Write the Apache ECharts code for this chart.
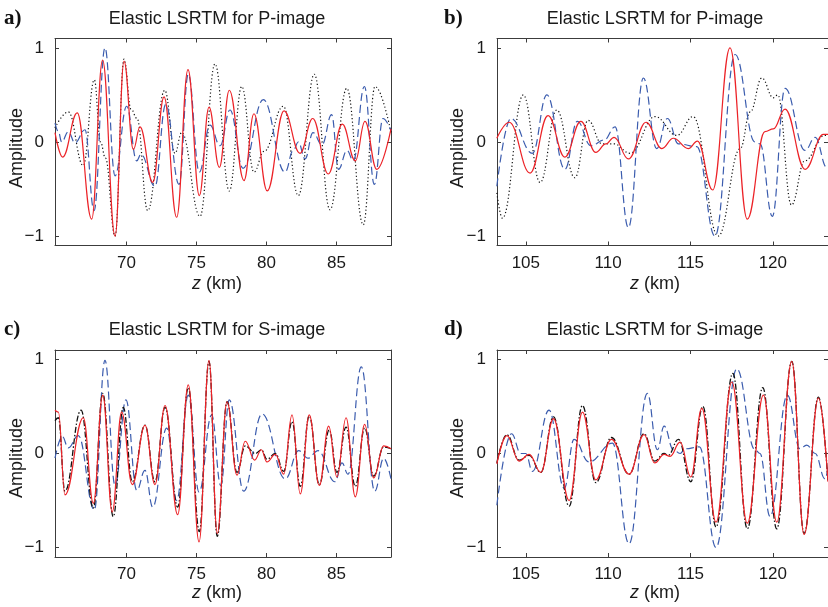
<!DOCTYPE html>
<html><head><meta charset="utf-8">
<script src="https://cdn.jsdelivr.net/npm/echarts@6/dist/echarts.min.js"></script>
<style>html,body{margin:0;padding:0;background:#fff}#c{width:828px;height:607px}</style>
</head><body><div id="c"></div>
<script>
// ---------- tick labels ----------
const xTicksLeft = [70, 75, 80, 85];
const xTicksRight = [105, 110, 115, 120];
const yTicks = [-1, 0, 1];
const xRangeLeft = [64.9, 88.9];
const xRangeRight = [103.25, 123.35];
const yRange = [-1.1, 1.1];

const panelLabels = ['a)', 'b)', 'c)', 'd)'];
const panelTitles = ['Elastic LSRTM for P-image', 'Elastic LSRTM for P-image',
                     'Elastic LSRTM for S-image', 'Elastic LSRTM for S-image'];

// ---------- panel a (P-image, z 65-89 km) ----------
const aBlack = [[64.9,0.15],[65.85,0.32],[66.92,-0.25],[67.71,0.66],[68.15,0.0],[68.5,-0.17],[69.19,-1.0],[69.83,0.88],[70.33,0.35],[70.76,0.25],[71.52,-0.73],[72.74,0.55],[73.47,-0.12],[73.95,0.1],[75.26,-0.79],[76.33,0.83],[77.35,-0.52],[78.24,0.59],[79.11,-0.32],[79.83,-0.1],[81.21,0.38],[82.28,-0.57],[83.42,0.72],[84.54,-0.72],[85.74,0.57],[86.92,-0.88],[87.76,0.59],[88.9,0.1]];
const aBlue = [[64.9,0.2],[65.14,0.11],[65.38,0.0],[65.85,0.11],[66.33,-0.01],[67.04,0.13],[67.69,-0.73],[68.47,1.0],[69.19,-0.36],[70.02,0.38],[70.74,-0.2],[71.04,-0.13],[72.04,-0.47],[72.81,0.4],[73.76,-0.45],[74.42,0.72],[75.21,-0.32],[75.97,0.18],[76.69,-0.04],[77.4,0.34],[78.33,-0.28],[79.78,0.45],[81.33,-0.32],[81.92,-0.09],[82.28,0.0],[82.76,-0.18],[83.33,0.1],[83.97,-0.03],[84.66,0.29],[85.15,-0.29],[85.76,-0.09],[86.21,-0.2],[87.0,0.59],[87.71,-0.45],[88.33,0.25],[88.9,0.12]];
const aRed = [[64.9,0.1],[65.45,-0.16],[66.49,0.31],[67.52,-0.82],[68.3,0.87],[69.19,-1.0],[69.83,0.86],[70.5,-0.08],[70.97,0.16],[71.88,-0.43],[72.69,0.48],[73.59,-0.8],[74.4,0.77],[75.21,-0.57],[75.9,0.37],[76.64,-0.27],[77.35,0.55],[78.4,-0.41],[79.11,0.3],[80.06,-0.52],[81.26,0.33],[82.4,-0.12],[83.31,0.25],[84.42,-0.34],[85.42,0.19],[86.35,-0.2],[87.04,0.22],[87.88,-0.29],[88.9,0.14]];

// ---------- panel b (P-image, z 103-123 km) ----------
const bBlack = [[103.24,-0.54],[103.58,-0.81],[104.85,0.5],[105.87,-0.43],[106.88,0.34],[107.98,-0.38],[108.78,0.23],[109.63,-0.02],[110.36,-0.02],[111.33,-0.12],[112.85,0.27],[114.17,0.07],[115.16,0.27],[116.68,-1.0],[118.02,-0.07],[118.63,0.32],[119.33,0.68],[120.03,0.47],[120.3,0.5],[121.13,-0.67],[121.94,-0.2],[123.15,0.07],[123.35,0.07]];
const bBlue = [[103.24,-0.47],[104.09,0.25],[105.4,-0.12],[106.28,0.5],[107.37,-0.29],[108.13,0.22],[108.95,-0.04],[109.75,0.02],[110.42,0.16],[111.23,-0.91],[112.14,0.68],[112.95,-0.07],[113.6,0.25],[114.27,-0.02],[115.38,-0.05],[116.49,-1.0],[117.71,0.93],[118.92,0.0],[119.22,-0.02],[119.97,-0.79],[120.74,0.57],[121.96,-0.09],[122.57,0.05],[123.28,-0.27],[123.35,-0.25]];
const bRed = [[103.24,0.04],[103.99,0.21],[105.26,-0.33],[106.35,0.28],[107.37,-0.16],[108.34,0.22],[109.25,-0.11],[109.86,-0.02],[110.36,0.05],[111.23,-0.18],[112.3,0.21],[113.26,-0.07],[113.96,0.04],[114.87,-0.07],[115.42,0.01],[116.35,-0.51],[117.4,1.0],[118.45,-0.82],[119.52,0.11],[120.03,0.14],[120.74,0.35],[121.96,-0.29],[123.07,0.08],[123.35,0.08]];

// ---------- panel c (S-image, z 65-89 km) ----------
const cBlack = [[64.9,0.35],[65.14,0.38],[65.61,-0.4],[66.76,0.46],[67.64,-0.58],[68.31,0.64],[69.06,-0.67],[69.78,0.49],[70.42,-0.3],[71.33,0.3],[72.04,-0.3],[72.76,0.49],[73.66,-0.57],[74.42,0.7],[75.21,-0.83],[75.9,0.98],[76.49,-0.88],[77.19,0.55],[77.9,-0.2],[78.49,0.08],[79.21,0.0],[79.64,0.04],[80.04,-0.06],[80.64,0.0],[81.24,-0.19],[81.83,0.34],[82.42,-0.35],[83.06,0.4],[83.78,-0.33],[84.49,0.25],[85.04,-0.2],[85.69,0.28],[86.35,-0.35],[87.02,0.27],[87.66,-0.24],[88.38,0.07],[88.9,0.05]];
const cBlue = [[64.9,-0.05],[65.42,0.18],[65.85,0.06],[66.56,0.19],[67.71,-0.6],[68.47,0.99],[69.19,-0.34],[69.97,0.57],[70.74,-0.39],[71.33,-0.18],[71.88,-0.57],[72.88,0.27],[73.59,-0.5],[74.42,0.62],[75.19,-0.41],[76.09,0.41],[76.74,-0.34],[77.35,0.57],[78.38,-0.4],[79.69,0.42],[81.35,-0.27],[82.31,0.03],[82.97,-0.05],[83.69,0.03],[84.9,-0.3],[85.4,-0.1],[85.83,-0.22],[86.78,0.92],[87.74,-0.4],[88.38,-0.05],[88.9,-0.27]];
const cRed = [[64.9,0.46],[65.14,0.44],[65.61,-0.44],[66.92,0.38],[67.64,-0.53],[68.31,0.62],[68.99,-0.62],[69.66,0.44],[70.42,-0.33],[71.33,0.3],[72.04,-0.33],[72.76,0.51],[73.66,-0.65],[74.42,0.73],[75.19,-0.94],[75.9,0.99],[76.49,-0.85],[77.19,0.55],[77.9,-0.23],[78.49,0.13],[79.16,-0.07],[79.64,0.04],[80.04,-0.09],[80.64,-0.01],[81.24,-0.22],[81.83,0.41],[82.42,-0.43],[83.06,0.41],[83.78,-0.34],[84.45,0.29],[85.04,-0.25],[85.69,0.38],[86.35,-0.46],[87.02,0.31],[87.66,-0.26],[88.38,0.08],[88.9,0.05]];

// ---------- panel d (S-image, z 103-123 km) ----------
const dBlack = [[103.24,-0.1],[103.85,0.2],[104.59,-0.07],[105.2,-0.02],[105.91,-0.2],[106.68,0.39],[107.63,-0.56],[108.44,0.51],[109.25,-0.31],[110.2,0.17],[111.27,-0.22],[112.18,0.21],[112.83,-0.08],[113.4,0.0],[113.64,-0.02],[114.27,0.15],[115.02,-0.3],[115.75,0.5],[116.55,-0.78],[117.57,0.85],[118.45,-0.8],[119.39,0.7],[120.24,-0.8],[121.15,0.98],[121.9,-0.85],[122.77,0.6],[123.35,-0.3]];
const dBlue = [[103.24,-0.55],[104.13,0.21],[104.7,0.0],[105.0,0.0],[105.4,-0.19],[106.41,0.46],[107.33,-0.37],[107.93,0.15],[108.84,-0.09],[110.26,0.11],[111.27,-0.96],[112.38,0.64],[112.99,0.04],[113.4,0.29],[113.96,0.04],[114.37,0.0],[114.68,0.05],[115.54,0.07],[116.55,-1.0],[117.81,0.9],[118.92,0.04],[119.22,0.0],[119.83,-0.67],[120.88,0.62],[121.65,0.05],[122.06,0.09],[122.57,0.0],[123.17,-0.27],[123.35,-0.15]];
const dRed = [[103.24,-0.11],[103.85,0.19],[104.59,-0.08],[105.2,-0.01],[105.91,-0.2],[106.68,0.37],[107.63,-0.5],[108.44,0.44],[109.25,-0.28],[110.2,0.15],[111.27,-0.22],[112.18,0.2],[112.83,-0.1],[113.4,-0.01],[113.76,-0.03],[114.37,0.12],[115.02,-0.25],[115.69,0.48],[116.55,-0.73],[117.51,0.76],[118.45,-0.74],[119.43,0.62],[120.24,-0.73],[121.15,0.98],[121.9,-0.86],[122.77,0.59],[123.35,-0.3]];

// ---------- layout ----------
const FONT = '"Liberation Sans", Arial, sans-serif';
const AX = '#3c3c3c';
const TXT = '#1a1a1a';
const grids = [
  {left: 55, top: 38.5, width: 336, height: 207},
  {left: 497, top: 38.5, width: 331, height: 207},
  {left: 55, top: 350, width: 336, height: 207},
  {left: 497, top: 350, width: 331, height: 207}
];
const xRanges = [xRangeLeft, xRangeRight, xRangeLeft, xRangeRight];
const xTickSets = [xTicksLeft, xTicksRight, xTicksLeft, xTicksRight];
const panelData = [
  [aBlack, aBlue, aRed],
  [bBlack, bBlue, bRed],
  [cBlack, cBlue, cRed],
  [dBlack, dBlue, dRed]
];

const xAxes = [], yAxes = [], series = [];
const fmt = v => (v < 0 ? '\u2212' + Math.abs(v) : String(v));
grids.forEach((g, i) => {
  const lineCommon = {show: true, onZero: false, lineStyle: {color: AX, width: 1}};
  ['bottom', 'top'].forEach((pos, k) => {
    xAxes.push({
      type: 'value', gridIndex: i, position: pos, min: xRanges[i][0], max: xRanges[i][1],
      axisLine: lineCommon,
      axisTick: {show: true, inside: true, length: 4, customValues: xTickSets[i], lineStyle: {color: AX}},
      axisLabel: {show: k === 0, customValues: xTickSets[i], margin: 9, fontSize: 17, color: TXT, fontFamily: FONT},
      splitLine: {show: false}
    });
  });
  ['left', 'right'].forEach((pos, k) => {
    yAxes.push({
      type: 'value', gridIndex: i, position: pos, min: yRange[0], max: yRange[1],
      axisLine: lineCommon,
      axisTick: {show: true, inside: true, length: 4, customValues: yTicks, lineStyle: {color: AX}},
      axisLabel: {show: k === 0, customValues: yTicks, margin: 11, fontSize: 17, color: TXT, fontFamily: FONT, formatter: fmt},
      splitLine: {show: false}
    });
  });
  const bottom = i >= 2;
  const [blk, blu, red] = panelData[i];
  const base = {type: 'line', xAxisIndex: 2 * i, yAxisIndex: 2 * i, symbol: 'none', showSymbol: false,
                smooth: 0.42, smoothMonotone: 'x', animation: false, clip: true, silent: true};
  if (!bottom) {
    series.push(Object.assign({}, base, {data: blk, z: 2, lineStyle: {color: '#111', width: 1.2, type: [1.2, 2.4]}}));
    series.push(Object.assign({}, base, {data: blu, z: 3, lineStyle: {color: '#3b5cae', width: 1.2, type: [8, 4]}}));
  } else {
    series.push(Object.assign({}, base, {data: blu, z: 2, lineStyle: {color: '#3b5cae', width: 1.2, type: [8, 4]}}));
    series.push(Object.assign({}, base, {data: blk, z: 3, lineStyle: {color: '#111', width: 1.3, type: [6, 2, 1.5, 2]}}));
  }
  series.push(Object.assign({}, base, {data: red, z: 4, lineStyle: {color: '#ec2227', width: 1.2, type: 'solid'}}));
});

// ---------- text ----------
const txtPos = [
  {lab: [4, 19], title: [217, 19], amp: [17, 148], z: [217, 284]},
  {lab: [444, 19], title: [655, 19], amp: [458, 148], z: [655, 284]},
  {lab: [4, 330], title: [217, 330], amp: [17, 458], z: [217, 593]},
  {lab: [444, 330], title: [655, 330], amp: [458, 458], z: [655, 593]}
];
const graphic = [];
txtPos.forEach((p, i) => {
  graphic.push({type: 'text', x: p.lab[0], y: p.lab[1], silent: true,
    style: {text: panelLabels[i], font: 'bold 21px "Liberation Serif", "Times New Roman", serif', fill: '#111', textAlign: 'left', textVerticalAlign: 'middle'}});
  graphic.push({type: 'text', x: p.title[0], y: p.title[1], silent: true,
    style: {text: panelTitles[i], font: '18px ' + FONT, fill: TXT, textAlign: 'center', textVerticalAlign: 'middle'}});
  graphic.push({type: 'text', x: p.amp[0], y: p.amp[1], rotation: Math.PI / 2, silent: true,
    style: {text: 'Amplitude', font: '18px ' + FONT, fill: TXT, textAlign: 'center', textVerticalAlign: 'middle'}});
  graphic.push({type: 'text', x: p.z[0], y: p.z[1], silent: true,
    style: {text: '{i|z}{n| (km)}', textAlign: 'center', textVerticalAlign: 'middle',
      rich: {i: {font: 'italic 18px ' + FONT, fill: TXT}, n: {font: '18px ' + FONT, fill: TXT}}}});
});

const chart = echarts.init(document.getElementById('c'), null, {renderer: 'canvas'});
chart.setOption({
  animation: false,
  backgroundColor: '#fff',
  grid: grids,
  xAxis: xAxes,
  yAxis: yAxes,
  series: series,
  graphic: graphic
});
</script></body></html>
